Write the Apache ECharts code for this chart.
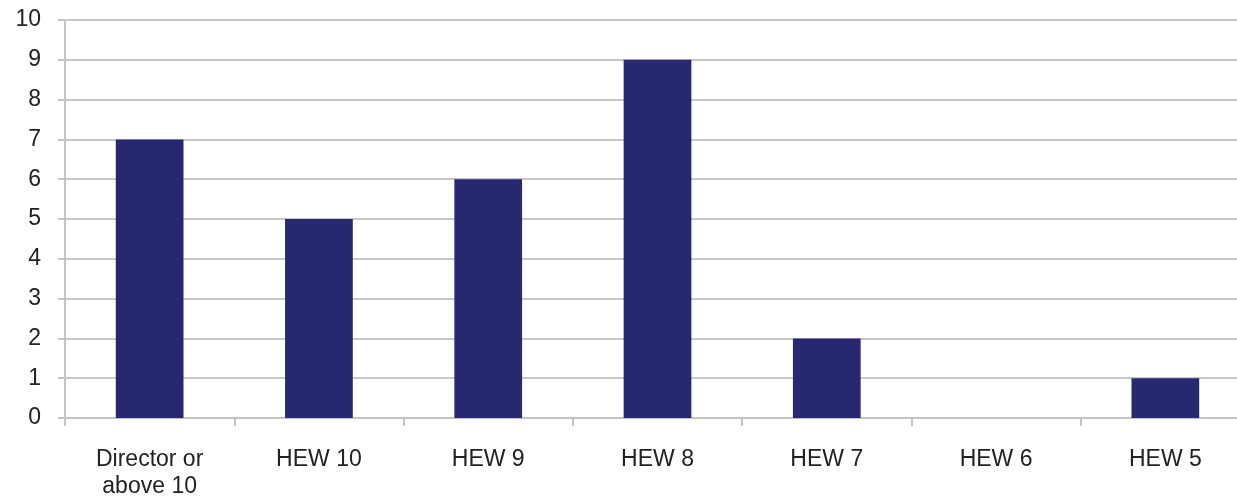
<!DOCTYPE html>
<html><head><meta charset="utf-8">
<script src="https://cdn.jsdelivr.net/npm/echarts@6/dist/echarts.min.js"></script>
<style>html,body{margin:0;padding:0;background:#fff;overflow:hidden;width:1237px;height:502px}#c{width:1250px;height:502px}</style>
</head><body><div id="c"></div>
<script>
const categories = ["Director or\nabove 10", "HEW 10", "HEW 9", "HEW 8", "HEW 7", "HEW 6", "HEW 5"];
const values = [7, 5, 6, 9, 2, 0, 1];
const yTicks = [0, 10, 1];

const chart = echarts.init(document.getElementById('c'));
chart.setOption({
  animation: false,
  grid: { left: 65, right: 0, top: 20, bottom: 84, containLabel: false, outerBoundsMode: 'none' },
  xAxis: {
    type: 'category', data: categories,
    axisLine: { show: true, lineStyle: { color: '#c4c4c4', width: 2 } },
    axisTick: { show: true, alignWithLabel: false, length: 8, lineStyle: { color: '#c4c4c4', width: 2 } },
    axisLabel: { margin: 28, fontFamily: 'Liberation Sans, Arial', fontSize: 23, color: '#222', lineHeight: 27 }
  },
  yAxis: {
    type: 'value', min: yTicks[0], max: yTicks[1], interval: yTicks[2],
    axisLine: { show: true, lineStyle: { color: '#c4c4c4', width: 2 } },
    axisTick: { show: true, length: 7, lineStyle: { color: '#c4c4c4', width: 2 } },
    splitLine: { show: true, lineStyle: { color: '#c8c8c8', width: 2 } },
    axisLabel: { margin: 24, fontFamily: 'Liberation Sans, Arial', fontSize: 23, color: '#222' }
  },
  series: [{
    type: 'bar', data: values, barWidth: '40%',
    itemStyle: { color: '#282870' }
  }]
});
</script></body></html>
